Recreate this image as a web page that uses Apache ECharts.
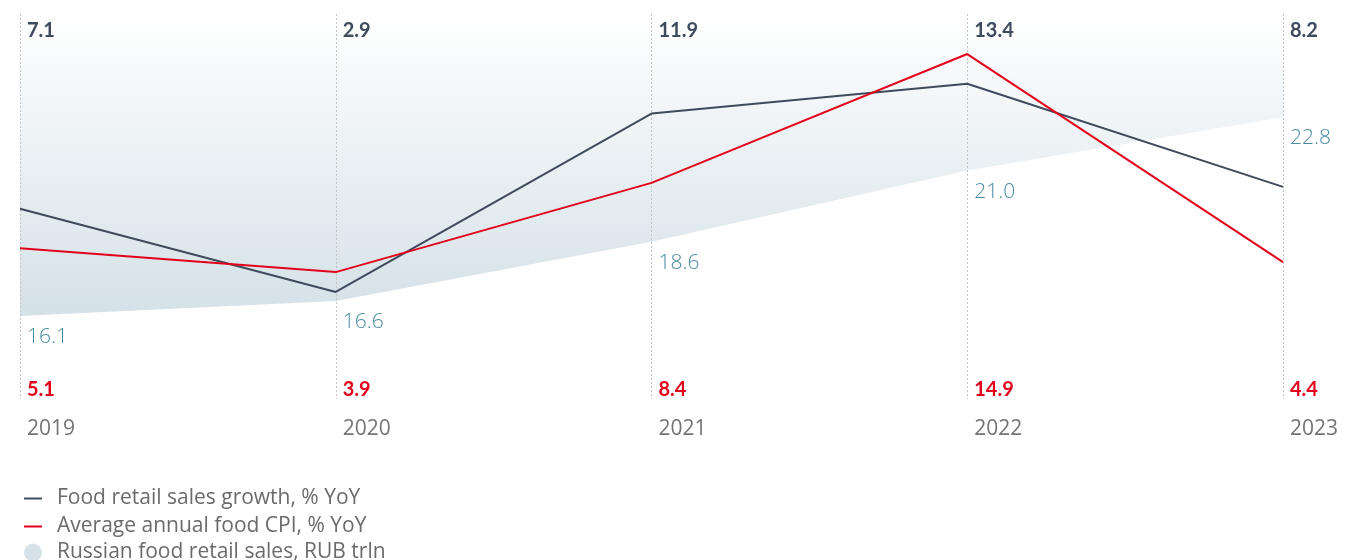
<!DOCTYPE html>
<html>
<head>
<meta charset="utf-8">
<script src="https://cdn.jsdelivr.net/npm/echarts@6/dist/echarts.min.js"></script>
<style>
  html, body { margin: 0; padding: 0; background: #fff; }
  #chart { width: 1348px; height: 560px; }
</style>
</head>
<body>
<div id="chart"></div>
<script>
  // data
  var years = ['2019', '2020', '2021', '2022', '2023'];
  var salesGrowth = [7.1, 2.9, 11.9, 13.4, 8.2];
  var foodCpi = [5.1, 3.9, 8.4, 14.9, 4.4];
  var salesTrln = [16.1, 16.6, 18.6, 21.0, 22.8];

  var FONT = '"Open Sans", Lato, sans-serif';
  var BOLD_FONT = 'Lato, "Open Sans", sans-serif';
  var DARK = '#3f4a5c';
  var RED = '#e3001b';
  var TEAL = '#4a8ca1';
  var AREA = '#d6e2e8';

  var chart = echarts.init(document.getElementById('chart'));

  chart.setOption({
    animation: false,
    textStyle: { fontFamily: FONT },
    grid: { left: 20, right: 65, top: 14, bottom: 161 },
    legend: [
      {
        orient: 'vertical',
        left: 19,
        top: 482,
        itemWidth: 18,
        itemHeight: 2,
        itemGap: 5,
        icon: 'rect',
        data: ['Food retail sales growth, % YoY', 'Average annual food CPI, % YoY'],
        textStyle: { fontFamily: FONT, fontSize: 21, color: '#6b6b6b', padding: [0, 0, 0, 10], lineHeight: 23 }
      },
      {
        orient: 'vertical',
        left: 19,
        top: 536,
        itemWidth: 18,
        itemHeight: 18,
        icon: 'circle',
        data: ['Russian food retail sales, RUB trln'],
        textStyle: { fontFamily: FONT, fontSize: 21, color: '#6b6b6b', padding: [0, 0, 0, 10], lineHeight: 23 }
      }
    ],
    xAxis: [
      {
        type: 'category',
        data: years,
        boundaryGap: false,
        position: 'bottom',
        z: 1.5,
        axisLine: { show: false },
        axisTick: { show: false },
        axisLabel: {
          interval: 0,
          margin: 20,
          align: 'left',
          padding: [0, 0, 0, 7],
          fontSize: 21,
          color: '#747474'
        },
        splitLine: {
          show: true,
          lineStyle: { color: '#c4c4c4', width: 1, type: [2, 2] }
        }
      },
      {
        type: 'category',
        data: years,
        boundaryGap: false,
        position: 'bottom',
        z: 1.5,
        axisLine: { show: false },
        axisTick: { show: false },
        splitLine: { show: false },
        axisLabel: {
          inside: true,
          interval: 0,
          margin: -1,
          align: 'left',
          padding: [0, 0, 0, 7],
          fontFamily: BOLD_FONT,
          fontSize: 20,
          fontWeight: 'bold',
          color: RED,
          formatter: function (v, i) { return foodCpi[i].toFixed(1); }
        }
      },
      {
        type: 'category',
        data: years,
        boundaryGap: false,
        position: 'top',
        z: 1.5,
        axisLine: { show: false },
        axisTick: { show: false },
        splitLine: { show: false },
        axisLabel: {
          inside: true,
          interval: 0,
          margin: 7,
          align: 'left',
          padding: [0, 0, 0, 7],
          fontFamily: BOLD_FONT,
          fontSize: 20,
          fontWeight: 'bold',
          color: DARK,
          formatter: function (v, i) { return salesGrowth[i].toFixed(1); }
        }
      }
    ],
    yAxis: [
      { type: 'value', min: -2.5, max: 16.92, show: false, splitLine: { show: false } },
      { type: 'value', min: 13.3, max: 26.28, show: false, splitLine: { show: false } }
    ],
    series: [
      {
        name: 'Russian food retail sales, RUB trln',
        type: 'line',
        yAxisIndex: 1,
        data: salesTrln,
        symbol: 'circle',
        symbolSize: 1,
        showSymbol: true,
        lineStyle: { width: 0 },
        itemStyle: { color: AREA },
        areaStyle: {
          origin: 'end',
          opacity: 1,
          color: new echarts.graphic.LinearGradient(0, 0, 0, 1, [
            { offset: 0, color: '#ffffff' },
            { offset: 1, color: '#d4e1e7' }
          ])
        },
        label: {
          show: true,
          position: 'bottom',
          align: 'left',
          offset: [7, 5],
          fontSize: 21,
          fontWeight: 300,
          color: TEAL,
          formatter: function (p) { return p.value.toFixed(1); }
        },
        z: 1
      },
      {
        name: 'Food retail sales growth, % YoY',
        type: 'line',
        data: salesGrowth,
        symbol: 'none',
        lineStyle: { color: DARK, width: 2 },
        itemStyle: { color: DARK },
        z: 3
      },
      {
        name: 'Average annual food CPI, % YoY',
        type: 'line',
        data: foodCpi,
        symbol: 'none',
        lineStyle: { color: RED, width: 2 },
        itemStyle: { color: RED },
        z: 4
      }
    ]
  });
</script>
</body>
</html>
